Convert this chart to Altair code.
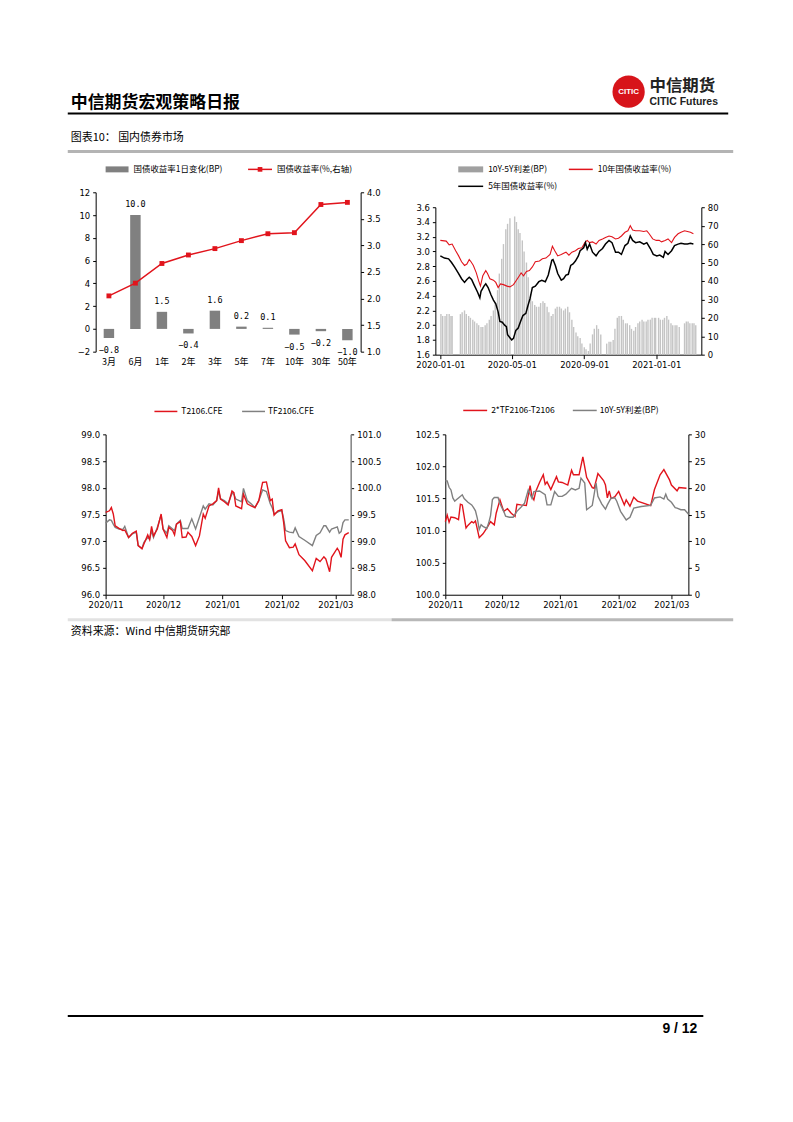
import altair as alt
import pandas as pd

FONT_CN = "Noto Sans CJK SC"
FONT_NUM = "DejaVu Sans"
RED = "#e1141c"

# ---------------- data ----------------
# chart 1
c1_cats = ["3月", "6月", "1年", "2年", "3年", "5年", "7年", "10年", "30年", "50年"]
c1_chg = [-0.8, 10.0, 1.5, -0.4, 1.6, 0.2, 0.1, -0.5, -0.2, -1.0]
c1_yld = [2.05, 2.29, 2.66, 2.82, 2.94, 3.09, 3.22, 3.24, 3.77, 3.81]

# chart 2
c2_bar_dates = ["2020-01-02", "2020-01-05", "2020-01-09", "2020-01-12", "2020-01-16", "2020-01-19", "2020-01-21",
                "2020-02-04", "2020-02-07", "2020-02-11", "2020-02-14", "2020-02-18", "2020-02-21", "2020-02-25", "2020-02-28",
                "2020-03-03", "2020-03-06", "2020-03-10", "2020-03-13", "2020-03-17", "2020-03-20", "2020-03-24", "2020-03-27",
                "2020-03-31", "2020-04-03", "2020-04-07", "2020-04-10", "2020-04-14", "2020-04-17", "2020-04-21", "2020-04-24",
                "2020-04-28", "2020-05-06", "2020-05-09", "2020-05-12", "2020-05-15", "2020-05-19", "2020-05-22", "2020-05-26",
                "2020-05-29", "2020-06-02", "2020-06-05", "2020-06-09", "2020-06-12", "2020-06-16", "2020-06-19", "2020-06-23",
                "2020-06-26", "2020-06-30", "2020-07-03", "2020-07-07", "2020-07-10", "2020-07-14", "2020-07-17", "2020-07-21",
                "2020-07-24", "2020-07-28", "2020-07-31", "2020-08-04", "2020-08-07", "2020-08-11", "2020-08-14", "2020-08-18",
                "2020-08-21", "2020-08-25", "2020-08-28", "2020-09-01", "2020-09-04", "2020-09-08", "2020-09-11", "2020-09-15",
                "2020-09-18", "2020-09-22", "2020-09-25", "2020-09-29", "2020-10-09", "2020-10-13", "2020-10-16", "2020-10-20",
                "2020-10-23", "2020-10-27", "2020-10-30", "2020-11-03", "2020-11-06", "2020-11-10", "2020-11-13", "2020-11-17",
                "2020-11-20", "2020-11-24", "2020-11-27", "2020-12-01", "2020-12-04", "2020-12-08", "2020-12-11", "2020-12-15",
                "2020-12-18", "2020-12-22", "2020-12-25", "2020-12-29", "2020-12-31", "2021-01-05", "2021-01-08", "2021-01-12",
                "2021-01-15", "2021-01-19", "2021-01-22", "2021-01-26", "2021-01-29", "2021-02-02", "2021-02-05", "2021-02-09",
                "2021-02-18", "2021-02-21", "2021-02-24", "2021-02-27", "2021-03-03", "2021-03-06", "2021-03-09"]
c2_bar_vals = [22, 21, 21, 22, 22, 21, 21,
               22, 23, 24, 22, 21, 20, 19, 18,
               17, 16, 15, 15, 16, 17, 19, 21,
               24, 28, 35, 44, 52, 60, 68, 71,
               74, 75, 72, 68, 66, 62, 56, 50,
               42, 33, 29, 27, 26, 26, 28, 29,
               28, 26, 23, 21, 22, 25, 26, 26,
               25, 24, 25, 26, 23, 19, 15, 12,
               10, 9, 6, 4, 3, 2, 6, 11,
               14, 16, 14, 11, 6, 7, 7, 8,
               14, 20, 21, 21, 19, 17, 17, 16,
               14, 13, 15, 17, 18, 19, 18, 18,
               19, 19, 20, 20, 20, 20, 19, 19,
               20, 21, 19, 17, 16, 16, 16, 15,
               17, 18, 18, 17, 17, 17, 16]

c2_y10_dates = ["2020-01-01", "2020-01-11", "2020-01-16", "2020-01-21", "2020-01-27", "2020-02-01", "2020-02-06", "2020-02-11",
                "2020-02-15", "2020-02-19", "2020-02-22", "2020-02-26", "2020-03-02", "2020-03-06", "2020-03-09", "2020-03-13",
                "2020-03-18", "2020-03-21", "2020-03-25", "2020-03-31", "2020-04-04", "2020-04-08", "2020-04-12", "2020-04-17",
                "2020-04-23", "2020-04-28", "2020-05-04", "2020-05-09", "2020-05-14", "2020-05-17", "2020-05-21", "2020-05-26",
                "2020-05-31", "2020-06-05", "2020-06-10", "2020-06-17", "2020-06-22", "2020-06-28", "2020-07-05", "2020-07-09",
                "2020-07-13", "2020-07-18", "2020-07-24", "2020-07-29",
                "2020-08-01", "2020-08-06", "2020-08-11", "2020-08-17", "2020-08-22", "2020-08-28", "2020-09-02", "2020-09-06",
                "2020-09-10", "2020-09-15", "2020-09-21", "2020-09-26", "2020-10-02", "2020-10-07", "2020-10-13", "2020-10-18",
                "2020-10-24", "2020-10-29", "2020-11-03", "2020-11-09", "2020-11-14", "2020-11-18", "2020-11-22", "2020-11-27",
                "2020-12-04", "2020-12-11", "2020-12-16", "2020-12-20", "2020-12-26", "2021-01-01", "2021-01-06", "2021-01-10",
                "2021-01-16", "2021-01-21", "2021-01-27", "2021-02-01", "2021-02-07", "2021-02-12", "2021-02-18", "2021-02-23",
                "2021-02-28", "2021-03-05"]
c2_y10_vals = [3.15, 3.14, 3.09, 3.10, 3.01, 2.94, 2.86, 2.81, 2.83, 2.89, 2.86, 2.81, 2.71, 2.60, 2.53, 2.67,
               2.74, 2.70, 2.63, 2.61, 2.58, 2.51, 2.56, 2.55, 2.53, 2.52, 2.55, 2.61, 2.67, 2.71, 2.67, 2.73,
               2.74, 2.79, 2.86, 2.87, 2.90, 2.91, 2.96, 3.07, 3.01, 2.94, 2.96, 2.98,
               2.99, 2.95, 2.99, 3.01, 3.04, 3.05, 3.12, 3.15, 3.12, 3.13, 3.10, 3.15, 3.17, 3.19, 3.21, 3.20,
               3.17, 3.18, 3.21, 3.26, 3.28, 3.35, 3.29, 3.28, 3.28, 3.27, 3.28, 3.24, 3.17, 3.15, 3.15, 3.13,
               3.15, 3.17, 3.12, 3.19, 3.24, 3.26, 3.28, 3.27, 3.26, 3.24]

c2_y5_dates = ["2020-01-01", "2020-01-08", "2020-01-15", "2020-01-20", "2020-01-25", "2020-02-01", "2020-02-06", "2020-02-11",
               "2020-02-15", "2020-02-19", "2020-02-23", "2020-02-27", "2020-03-04", "2020-03-08", "2020-03-10", "2020-03-15",
               "2020-03-18", "2020-03-22", "2020-03-27", "2020-03-31", "2020-04-04", "2020-04-08", "2020-04-11", "2020-04-15",
               "2020-04-19", "2020-04-22", "2020-04-24", "2020-04-28", "2020-05-01", "2020-05-04", "2020-05-08", "2020-05-12",
               "2020-05-16", "2020-05-20", "2020-05-25", "2020-05-28", "2020-06-01", "2020-06-05", "2020-06-10", "2020-06-16",
               "2020-06-21", "2020-06-27", "2020-07-02", "2020-07-08", "2020-07-10", "2020-07-14", "2020-07-18", "2020-07-24",
               "2020-07-28",
               "2020-08-01", "2020-08-05", "2020-08-09", "2020-08-13", "2020-08-17", "2020-08-22", "2020-08-25", "2020-08-31",
               "2020-09-03", "2020-09-06", "2020-09-10", "2020-09-15", "2020-09-21", "2020-09-26", "2020-10-02", "2020-10-07",
               "2020-10-13", "2020-10-18", "2020-10-24", "2020-10-29", "2020-11-03", "2020-11-09", "2020-11-14", "2020-11-18",
               "2020-11-22", "2020-11-27", "2020-12-04", "2020-12-11", "2020-12-16", "2020-12-22", "2020-12-27", "2021-01-02",
               "2021-01-07", "2021-01-13", "2021-01-16", "2021-01-21", "2021-01-27", "2021-02-01", "2021-02-07", "2021-02-12",
               "2021-02-18", "2021-02-23", "2021-02-28", "2021-03-05"]
c2_y5_vals = [2.94, 2.91, 2.90, 2.85, 2.79, 2.70, 2.63, 2.58, 2.62, 2.65, 2.62, 2.55, 2.45, 2.37, 2.46, 2.53,
              2.56, 2.51, 2.41, 2.34, 2.29, 2.18, 2.05, 2.04, 2.00, 1.98, 1.87, 1.83, 1.80, 1.82, 1.93, 1.96,
              2.05, 2.13, 2.16, 2.25, 2.36, 2.51, 2.53, 2.59, 2.61, 2.59, 2.68, 2.88, 2.89, 2.81, 2.70, 2.61,
              2.63,
              2.68, 2.69, 2.81, 2.83, 2.87, 2.94, 3.01, 3.05, 3.12, 3.03, 3.10, 2.99, 2.94, 3.00, 3.04, 3.10,
              3.15, 3.12, 2.99, 2.99, 2.96, 3.08, 3.11, 3.21, 3.15, 3.12, 3.13, 3.10, 3.12, 3.04, 2.96, 2.94,
              2.95, 2.92, 3.00, 2.96, 3.01, 3.08, 3.10, 3.11, 3.10, 3.10, 3.11, 3.10]

# chart 3
c3_dates = ["2020-11-01", "2020-11-03", "2020-11-04", "2020-11-05", "2020-11-06", "2020-11-08", "2020-11-10", "2020-11-11",
            "2020-11-13", "2020-11-15", "2020-11-17", "2020-11-18", "2020-11-20", "2020-11-21", "2020-11-23", "2020-11-24",
            "2020-11-25", "2020-11-26", "2020-11-28", "2020-11-30", "2020-12-01", "2020-12-03", "2020-12-04", "2020-12-06",
            "2020-12-07", "2020-12-08", "2020-12-10", "2020-12-11", "2020-12-13", "2020-12-14", "2020-12-16", "2020-12-18",
            "2020-12-20", "2020-12-22", "2020-12-23", "2020-12-25", "2020-12-27", "2020-12-29", "2020-12-30", "2020-12-31",
            "2021-01-02", "2021-01-04", "2021-01-06", "2021-01-07", "2021-01-08", "2021-01-11", "2021-01-12", "2021-01-14",
            "2021-01-16", "2021-01-18", "2021-01-20", "2021-01-22", "2021-01-24", "2021-01-26", "2021-01-27", "2021-01-28",
            "2021-01-30", "2021-02-01", "2021-02-02", "2021-02-03", "2021-02-05", "2021-02-07", "2021-02-08", "2021-02-10",
            "2021-02-13", "2021-02-17", "2021-02-19", "2021-02-21", "2021-02-23", "2021-02-24", "2021-02-26", "2021-02-27",
            "2021-03-02", "2021-03-03", "2021-03-04", "2021-03-05", "2021-03-06", "2021-03-08"]
c3_t = [97.54, 97.57, 97.63, 97.51, 97.29, 97.24, 97.20, 97.21, 97.07, 97.15,
        97.19, 96.92, 96.86, 96.95, 97.12, 97.03, 97.28, 97.10, 97.23, 97.51,
        97.23, 97.07, 97.26, 97.20, 97.12, 97.32, 97.37, 97.07, 97.08, 97.17,
        97.09, 96.92, 97.10, 97.51, 97.43, 97.66, 97.70, 97.76, 98.00, 97.79,
        97.74, 97.68, 97.94, 97.91, 97.66, 97.61, 97.88, 97.70, 97.66, 97.63,
        97.76, 98.10, 98.11, 97.76, 97.79, 97.49, 97.57, 97.59, 97.35, 97.01,
        96.88, 96.89, 96.95, 96.75, 96.64, 96.45, 96.68, 96.62, 96.71, 96.67,
        96.43, 96.70, 96.87, 96.81, 96.70, 97.04, 97.12, 97.16]
c3_tf = [99.34, 99.40, 99.39, 99.32, 99.26, 99.23, 99.22, 99.28, 99.07, 99.14,
         99.17, 98.92, 98.87, 98.98, 99.07, 99.04, 99.20, 99.07, 99.26, 99.49,
         99.23, 99.15, 99.29, 99.23, 99.20, 99.32, 99.39, 99.24, 99.24, 99.24,
         99.42, 99.23, 99.45, 99.66, 99.60, 99.70, 99.68, 99.76, 99.94, 99.80,
         99.76, 99.70, 99.90, 99.88, 99.79, 99.74, 99.99, 99.76, 99.70, 99.63,
         99.76, 99.96, 99.93, 99.70, 99.63, 99.51, 99.55, 99.58, 99.42, 99.20,
         99.17, 99.16, 99.25, 99.09, 99.02, 98.92, 99.11, 99.16, 99.29, 99.29,
         99.17, 99.23, 99.27, 99.15, 99.18, 99.35, 99.40, 99.40]

# chart 4
c4_basis_dates = ["2020-11-01", "2020-11-02", "2020-11-03", "2020-11-04", "2020-11-06", "2020-11-08", "2020-11-09", "2020-11-10",
                  "2020-11-12", "2020-11-13", "2020-11-15", "2020-11-16", "2020-11-17", "2020-11-19", "2020-11-21", "2020-11-23",
                  "2020-11-24", "2020-11-25", "2020-11-27", "2020-11-28", "2020-11-30", "2020-12-02", "2020-12-04", "2020-12-06",
                  "2020-12-08", "2020-12-09", "2020-12-11", "2020-12-14", "2020-12-16", "2020-12-17", "2020-12-18", "2020-12-19",
                  "2020-12-21", "2020-12-23", "2020-12-24", "2020-12-25", "2020-12-27", "2020-12-30", "2020-12-31", "2021-01-02",
                  "2021-01-05", "2021-01-07", "2021-01-08", "2021-01-11", "2021-01-13", "2021-01-15", "2021-01-18", "2021-01-19",
                  "2021-01-21", "2021-01-24", "2021-01-25", "2021-01-26", "2021-01-27", "2021-01-28", "2021-01-30", "2021-02-01",
                  "2021-02-04", "2021-02-05", "2021-02-07", "2021-02-09", "2021-02-11", "2021-02-18", "2021-02-20", "2021-02-23",
                  "2021-02-25", "2021-02-28", "2021-03-01", "2021-03-04", "2021-03-05", "2021-03-09"]
c4_basis = [101.14, 101.24, 101.13, 101.21, 101.20, 101.17, 101.41, 101.40, 101.04, 101.08,
            101.14, 101.12, 101.15, 100.89, 100.95, 101.04, 101.09, 101.14, 101.09, 101.27,
            101.48, 101.30, 101.34, 101.27, 101.22, 101.41, 101.40, 101.39, 101.70, 101.53,
            101.48, 101.61, 101.75, 101.87, 101.72, 101.76, 101.64, 101.84, 101.76, 101.75,
            101.71, 101.94, 101.87, 101.87, 102.15, 101.83, 101.67, 101.66, 101.89, 101.78,
            101.71, 101.51, 101.62, 101.50, 101.53, 101.61, 101.40, 101.48, 101.38, 101.52,
            101.46, 101.39, 101.64, 101.87, 101.95, 101.79, 101.71, 101.62, 101.67, 101.66]
c4_spread_dates = ["2020-11-01", "2020-11-02", "2020-11-03", "2020-11-04", "2020-11-05", "2020-11-06", "2020-11-07", "2020-11-08",
                   "2020-11-10", "2020-11-11", "2020-11-13", "2020-11-15", "2020-11-16", "2020-11-17", "2020-11-18", "2020-11-19",
                   "2020-11-20", "2020-11-21", "2020-11-23", "2020-11-24", "2020-11-25", "2020-11-26", "2020-11-27", "2020-11-29",
                   "2020-11-30", "2020-12-02", "2020-12-03", "2020-12-05", "2020-12-07", "2020-12-09", "2020-12-11", "2020-12-13",
                   "2020-12-15", "2020-12-17", "2020-12-18", "2020-12-21", "2020-12-24", "2020-12-25", "2020-12-27", "2020-12-29",
                   "2020-12-31", "2021-01-02", "2021-01-04", "2021-01-07", "2021-01-09", "2021-01-11", "2021-01-12", "2021-01-14",
                   "2021-01-15", "2021-01-18", "2021-01-20", "2021-01-21", "2021-01-23", "2021-01-25", "2021-01-26", "2021-01-28",
                   "2021-01-30", "2021-01-31", "2021-02-02", "2021-02-05", "2021-02-07", "2021-02-09", "2021-02-13", "2021-02-18",
                   "2021-02-20", "2021-02-23", "2021-02-25", "2021-02-26", "2021-02-27", "2021-03-01", "2021-03-03", "2021-03-04",
                   "2021-03-06", "2021-03-08", "2021-03-10"]
c4_spread = [21.3, 21.3, 20.1, 19.6, 18.1, 17.5, 17.8, 18.1, 18.7, 18.0,
             17.3, 16.8, 16.3, 15.7, 14.3, 12.2, 13.1, 12.8, 12.4, 13.4,
             14.8, 17.8, 18.2, 18.2, 17.0, 15.6, 14.7, 14.5, 14.5, 15.6,
             16.3, 17.1, 19.6, 18.0, 19.3, 19.4, 18.7, 16.8, 16.8, 19.3,
             18.4, 18.4, 18.8, 19.9, 19.6, 19.9, 21.8, 20.9, 15.9, 16.7,
             20.9, 18.4, 17.0, 16.0, 16.8, 18.1, 18.1, 17.5, 15.6, 14.0,
             14.5, 16.2, 16.5, 16.7, 18.1, 18.3, 17.9, 18.8, 17.9, 17.3,
             16.3, 16.2, 15.9, 15.9, 15.1]

# ---------------- helpers ----------------
ONE = pd.DataFrame({"k": [0]})


def dt(y, m, d):
    return alt.DateTime(year=y, month=m, date=d)


def text_mark(x, y, s, size=9, weight="normal", align="left", color="#000", font=FONT_CN):
    return alt.Chart(ONE).mark_text(text=s, fontSize=size, fontWeight=weight, align=align,
                                    baseline="middle", color=color, font=font).encode(
        x=alt.value(x), y=alt.value(y))


def seg(x1, x2, y, color, w):
    return alt.Chart(ONE).mark_rule(color=color, strokeWidth=w).encode(
        x=alt.value(x1), x2=alt.value(x2), y=alt.value(y))


def dot(x, y, size, color, shape="circle"):
    return alt.Chart(ONE).mark_point(filled=True, size=size, color=color, shape=shape, opacity=1).encode(
        x=alt.value(x), y=alt.value(y))


def spacer(w, h):
    return alt.Chart(ONE).mark_point(opacity=0).encode(x=alt.value(0), y=alt.value(0)).properties(width=w, height=h)


def time_axis(values, fmt):
    return alt.Axis(title=None, values=values, format=fmt, labelFlush=False, labelOverlap=False,
                    tickSize=4, labelPadding=2)


# ---------------- header canvas (page y 8 -> 191) ----------------
canvas_a = alt.layer(
    text_mark(60, 93, "中信期货宏观策略日报", 17, "bold"),
    dot(620, 82, 1050, "#d7141a"),
    text_mark(620, 82, "CITIC", 8, "bold", "center", "white", "Liberation Sans"),
    text_mark(641, 76, "中信期货", 16.5, "bold", color="#222"),
    text_mark(641, 92, "CITIC Futures", 10.5, "bold", color="#222", font="Liberation Sans"),
    seg(57, 720, 104, "#000", 2),
    text_mark(60, 129, "图表10： 国内债券市场", 11),
    seg(57, 725, 142, "#b4b4b4", 3),
    seg(95, 118, 160, "#808080", 6),
    text_mark(123, 160, "国债收益率1日变化(BP)", 8.5),
    seg(238, 262, 160, RED, 1.5),
    dot(250, 160, 22, RED, "square"),
    text_mark(267, 160, "国债收益率(%,右轴)", 8.5),
    seg(449, 474, 160, "#a0a0a0", 6),
    text_mark(479, 160, "10Y-5Y利差(BP)", 8.5),
    seg(560, 584, 160, RED, 1.5),
    text_mark(589, 160, "10年国债收益率(%)", 8.5),
    seg(449, 474, 177, "#000", 1.5),
    text_mark(479, 177, "5年国债收益率(%)", 8.5),
).properties(width=777, height=183)

# ---------------- chart 1 ----------------
df1 = pd.DataFrame({"cat": c1_cats, "chg": c1_chg, "yld": c1_yld})
x1 = alt.X("cat:N", sort=c1_cats, scale=alt.Scale(paddingInner=0.6, paddingOuter=0.3),
           axis=alt.Axis(title=None, domain=False, ticks=False, labelAngle=0, labelFont=FONT_CN,
                         labelFontSize=9, labelPadding=6))
base_l = alt.Chart(df1).encode(
    x=x1,
    y=alt.Y("chg:Q", scale=alt.Scale(domain=[-2, 12], nice=False, zero=False),
            axis=alt.Axis(title=None, orient="left", values=list(range(-2, 13, 2)), format="d")))
bars1 = base_l.mark_bar(color="#808080", size=10.5)
lab_pos = base_l.transform_filter("datum.chg >= 0").mark_text(
    dy=-11, font="DejaVu Sans Mono", fontSize=8.5, color="#000").encode(text=alt.Text("chg:Q", format=".1f"))
lab_neg = base_l.transform_filter("datum.chg < 0").mark_text(
    dy=12, font="DejaVu Sans Mono", fontSize=8.5, color="#000").encode(text=alt.Text("chg:Q", format=".1f"))
base_r = alt.Chart(df1).encode(
    x=x1,
    y=alt.Y("yld:Q", scale=alt.Scale(domain=[1, 4], nice=False, zero=False),
            axis=alt.Axis(title=None, orient="right", values=[1.0, 1.5, 2.0, 2.5, 3.0, 3.5, 4.0], format=".1f")))
line1 = base_r.mark_line(color=RED, strokeWidth=1.5)
pts1 = base_r.mark_point(shape="square", filled=True, size=24, color=RED, opacity=1)
chart1 = alt.layer(alt.layer(bars1, lab_pos, lab_neg), alt.layer(line1, pts1)).resolve_scale(
    y="independent").properties(width=266, height=160)

# ---------------- chart 2 ----------------
df2b = pd.DataFrame({"date": pd.to_datetime(c2_bar_dates), "v": c2_bar_vals})
df2r = pd.DataFrame({"date": pd.to_datetime(c2_y10_dates), "v": c2_y10_vals})
df2k = pd.DataFrame({"date": pd.to_datetime(c2_y5_dates), "v": c2_y5_vals})
x2 = alt.X("date:T", scale=alt.Scale(domain=[dt(2020, 1, 1), dt(2021, 3, 10)]),
           axis=time_axis([dt(2020, 1, 1), dt(2020, 5, 1), dt(2020, 9, 1), dt(2021, 1, 1)], "%Y-%m-%d"))
y2l = alt.Y("v:Q", scale=alt.Scale(domain=[1.6, 3.6], nice=False, zero=False),
            axis=alt.Axis(title=None, orient="left", values=[1.6, 1.8, 2.0, 2.2, 2.4, 2.6, 2.8, 3.0, 3.2, 3.4, 3.6],
                          format=".1f"))
y2r = alt.Y("v:Q", scale=alt.Scale(domain=[0, 80], nice=False),
            axis=alt.Axis(title=None, orient="right", values=list(range(0, 81, 10)), format="d"))
bars2 = alt.Chart(df2b).mark_bar(color="#c4c4c4", size=1.4).encode(x=x2, y=y2r)
lines2 = alt.layer(
    alt.Chart(df2r).mark_line(color=RED, strokeWidth=1.1).encode(x=x2, y=y2l),
    alt.Chart(df2k).mark_line(color="#000", strokeWidth=1.5).encode(x=x2, y=y2l),
)
chart2 = alt.layer(bars2, lines2).resolve_scale(y="independent").properties(width=267, height=148)

# ---------------- middle canvas (page y 191 -> 434) ----------------
canvas_b = alt.layer(
    seg(144, 167, 220, RED, 1.5),
    text_mark(171, 220, "T2106.CFE", 8.5),
    seg(232, 255, 220, "#808080", 1.5),
    text_mark(258, 220, "TF2106.CFE", 8.5),
    seg(454, 478, 219, RED, 1.5),
    text_mark(482, 219, "2*TF2106-T2106", 8.5),
    seg(564, 588, 219, "#808080", 1.5),
    text_mark(591, 219, "10Y-5Y利差(BP)", 8.5),
).properties(width=777, height=243)

# ---------------- chart 3 ----------------
df3 = pd.DataFrame({"date": pd.to_datetime(c3_dates), "t": c3_t, "tf": c3_tf})
month_vals = [dt(2020, 11, 1), dt(2020, 12, 1), dt(2021, 1, 1), dt(2021, 2, 1), dt(2021, 3, 1)]
x3 = alt.X("date:T", scale=alt.Scale(domain=[dt(2020, 11, 1), dt(2021, 3, 9)]),
           axis=time_axis(month_vals, "%Y/%m"))
tf3 = alt.Chart(df3).mark_line(color="#808080", strokeWidth=1.4).encode(
    x=x3, y=alt.Y("tf:Q", scale=alt.Scale(domain=[98, 101], nice=False, zero=False),
                  axis=alt.Axis(title=None, orient="right", values=[98.0, 98.5, 99.0, 99.5, 100.0, 100.5, 101.0],
                                format=".1f", domainColor="#808080", domainWidth=1.5)))
t3 = alt.Chart(df3).mark_line(color=RED, strokeWidth=1.4).encode(
    x=x3, y=alt.Y("t:Q", scale=alt.Scale(domain=[96, 99], nice=False, zero=False),
                  axis=alt.Axis(title=None, orient="left", values=[96.0, 96.5, 97.0, 97.5, 98.0, 98.5, 99.0],
                                format=".1f")))
chart3 = alt.layer(tf3, t3).resolve_scale(y="independent").properties(width=246, height=161)

# ---------------- chart 4 ----------------
df4a = pd.DataFrame({"date": pd.to_datetime(c4_basis_dates), "v": c4_basis})
df4b = pd.DataFrame({"date": pd.to_datetime(c4_spread_dates), "v": c4_spread})
x4 = alt.X("date:T", scale=alt.Scale(domain=[dt(2020, 11, 1), dt(2021, 3, 10)]),
           axis=time_axis(month_vals, "%Y/%m"))
basis4 = alt.Chart(df4a).mark_line(color=RED, strokeWidth=1.4).encode(
    x=x4, y=alt.Y("v:Q", scale=alt.Scale(domain=[100, 102.5], nice=False, zero=False),
                  axis=alt.Axis(title=None, orient="left", values=[100.0, 100.5, 101.0, 101.5, 102.0, 102.5],
                                format=".1f")))
spread4 = alt.Chart(df4b).mark_line(color="#808080", strokeWidth=1.4).encode(
    x=x4, y=alt.Y("v:Q", scale=alt.Scale(domain=[0, 30], nice=False),
                  axis=alt.Axis(title=None, orient="right", values=[0, 5, 10, 15, 20, 25, 30], format="d")))
chart4 = alt.layer(basis4, spread4).resolve_scale(y="independent").properties(width=244, height=161)

# ---------------- footer canvas (page y 434 -> ...) ----------------
canvas_d = alt.layer(
    seg(57, 382, 186, "#e2e2e2", 3),
    seg(382, 725, 186, "#b8b8b8", 3),
    text_mark(60, 198, "资料来源：Wind 中信期货研究部", 11),
    seg(57, 695, 584, "#000", 2),
    text_mark(689, 597, "9 / 12", 14, "bold", "right", font="Liberation Sans"),
).properties(width=777, height=610)

# ---------------- layout ----------------
row_b = alt.hconcat(
    spacer(85, 160), chart1, spacer(75, 160),
    alt.vconcat(spacer(267, 15), chart2, spacing=0, bounds="flush"),
    spacing=0, bounds="flush")
row_c = alt.hconcat(spacer(95, 161), chart3, spacer(95, 161), chart4, spacing=0, bounds="flush")

chart = alt.vconcat(canvas_a, row_b, canvas_b, row_c, canvas_d, spacing=0, bounds="flush").properties(
    padding=0, background="white"
).configure_axis(
    grid=False, domainColor="#000", tickColor="#000", labelColor="#000", labelFont=FONT_NUM,
    labelFontSize=8.5, tickSize=3, labelPadding=3, domainWidth=1, tickWidth=1
).configure_view(stroke=None)

chart.save("out.html", embed_options={"renderer": "svg", "actions": False})
